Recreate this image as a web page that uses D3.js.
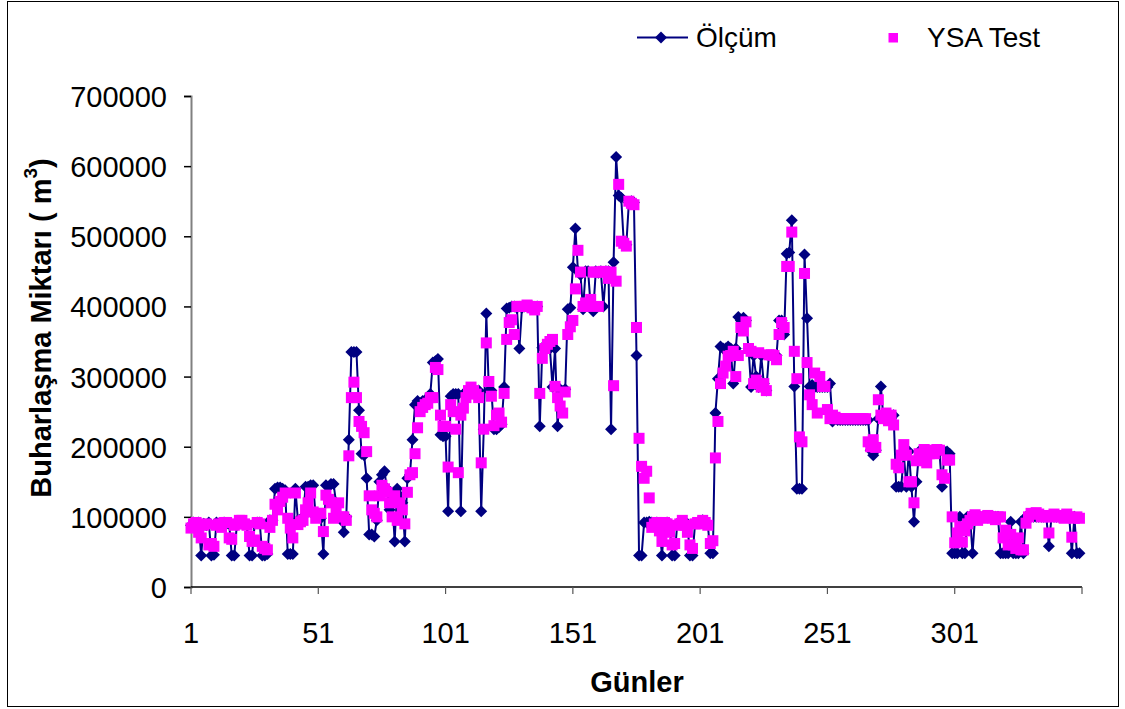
<!DOCTYPE html>
<html>
<head>
<meta charset="utf-8">
<script src="https://cdn.jsdelivr.net/npm/d3@7"></script>
<style>
html,body{margin:0;padding:0;background:#fff;}
svg{display:block;font-family:"Liberation Sans",Arial,sans-serif;}
</style>
</head>
<body>
<svg id="chart" width="1125" height="709"></svg>
<script>
// ---- data ----
const olcum = [
88000,92000,90000,92000,45000,90000,88000,92000,45000,46000,
92000,90000,88000,92000,90000,90000,45000,45000,88000,92000,
92000,90000,88000,45000,45000,90000,92000,92000,45000,45000,
47000,95000,95000,140000,142000,142000,140000,138000,47000,47000,
47000,140000,95000,95000,100000,143000,143000,145000,145000,100000,
100000,98000,47000,145000,143000,147000,147000,120000,100000,95000,
78000,100000,210000,335000,335000,335000,252000,190000,188000,155000,
75000,75000,72000,95000,150000,160000,165000,140000,110000,130000,
65000,140000,130000,120000,65000,155000,160000,210000,260000,265000,
262000,265000,265000,270000,275000,320000,322000,325000,217000,215000,
215000,108000,272000,275000,275000,275000,108000,275000,278000,280000,
280000,280000,278000,280000,108000,225000,390000,280000,280000,225000,
225000,228000,232000,285000,397000,398000,400000,400000,398000,340000,
398000,400000,400000,400000,400000,398000,400000,229000,341000,340000,
345000,340000,285000,340000,229000,282000,279000,282000,396000,398000,
456000,511000,450000,445000,396000,450000,450000,400000,393000,450000,
448000,450000,400000,450000,450000,225000,463000,613000,558000,555000,
490000,488000,548000,550000,548000,330000,45000,45000,92000,92000,
93000,92000,90000,92000,88000,45000,90000,92000,90000,45000,
45000,90000,92000,92000,88000,90000,45000,45000,90000,92000,
92000,95000,92000,90000,48000,48000,248000,297000,343000,340000,
340000,343000,340000,290000,340000,385000,380000,384000,380000,340000,
285000,330000,300000,285000,330000,290000,280000,330000,330000,330000,
330000,380000,380000,360000,475000,477000,523000,286000,140000,140000,
140000,474000,383000,286000,288000,285000,285000,285000,285000,285000,
285000,290000,236000,240000,238000,238000,238000,238000,238000,238000,
238000,238000,238000,238000,238000,238000,238000,195000,188000,195000,
240000,286000,240000,240000,240000,240000,245000,143000,143000,143000,
190000,143000,193000,143000,93000,150000,193000,193000,193000,193000,
193000,193000,193000,193000,193000,143000,193000,193000,190000,48000,
48000,48000,100000,48000,48000,100000,100000,48000,100000,100000,
100000,100000,100000,100000,100000,100000,100000,100000,48000,48000,
48000,48000,93000,48000,48000,48000,93000,48000,100000,100000,
100000,100000,100000,100000,100000,100000,100000,58000,100000,100000,
100000,100000,100000,100000,100000,100000,48000,100000,48000,48000
];
const ysaTest = [
84000,90000,92000,78000,70000,88000,90000,60000,62000,58000,
88000,90000,85000,92000,92000,70000,68000,88000,90000,95000,
95000,90000,88000,72000,65000,67000,92000,90000,58000,55000,
53000,85000,95000,118000,110000,122000,128000,134000,98000,84000,
70000,134000,89000,93000,95000,110000,120000,134000,107000,98000,
105000,105000,79000,131000,125000,120000,98000,110000,120000,100000,
100000,95000,187000,270000,292000,270000,236000,229000,220000,193000,
130000,110000,105000,100000,130000,145000,140000,135000,120000,100000,
130000,95000,120000,110000,90000,135000,160000,163000,190000,227000,
250000,256000,260000,262000,270000,270000,313000,310000,245000,229000,
229000,171000,260000,250000,225000,163000,245000,255000,270000,280000,
285000,280000,275000,270000,177000,225000,348000,293000,272000,230000,
245000,248000,235000,276000,353000,377000,381000,360000,400000,400000,
400000,400000,402000,400000,398000,395000,400000,276000,326000,340000,
346000,350000,353000,286000,270000,258000,248000,278000,360000,371000,
380000,425000,480000,449000,400000,405000,400000,410000,449000,449000,
400000,449000,450000,449000,440000,449000,287000,436000,574000,493000,
490000,486000,550000,547000,545000,370000,212000,172000,155000,165000,
127000,85000,90000,92000,80000,65000,92000,90000,78000,60000,
62000,88000,90000,95000,88000,78000,60000,55000,90000,92000,
90000,95000,92000,88000,62000,66000,184000,236000,290000,305000,
315000,329000,330000,336000,300000,330000,370000,365000,378000,340000,
336000,290000,295000,334000,285000,290000,280000,331000,331000,330000,
324000,360000,377000,370000,457000,457000,506000,336000,297000,214000,
207000,447000,320000,274000,260000,305000,248000,300000,286000,286000,
253000,240000,245000,242000,240000,240000,240000,240000,240000,240000,
240000,240000,240000,240000,240000,240000,207000,200000,210000,199000,
267000,245000,240000,248000,237000,245000,231000,175000,170000,188000,
203000,188000,150000,150000,120000,180000,190000,185000,196000,177000,
190000,195000,190000,196000,195000,160000,155000,181000,181000,100000,
63000,77000,86000,64000,80000,90000,95000,100000,103000,95000,
100000,98000,100000,102000,100000,98000,96000,100000,100000,70000,
81000,60000,75000,60000,55000,70000,53000,53000,91000,100000,
105000,104000,106000,104000,100000,102000,100000,77000,100000,104000,
102000,100000,100000,98000,104000,100000,71000,98000,100000,98000
];
const days = d3.range(1, olcum.length + 1);
const xTickValues = [1, 51, 101, 151, 201, 251, 301];
const xTickMarks = [1, 51, 101, 151, 201, 251, 301, 351];
const yTickValues = [0, 100000, 200000, 300000, 400000, 500000, 600000, 700000];
const seriesNames = ["Ölçüm", "YSA Test"];
const xTitle = "Günler";

// ---- drawing ----
const svg = d3.select("#chart");
const x = d3.scaleLinear().domain([1, 351]).range([191, 1082]);
const y = d3.scaleLinear().domain([0, 700000]).range([587, 96]);

// outer frame
svg.append("rect").attr("x", 7.5).attr("y", 1.5).attr("width", 1111).attr("height", 705)
  .attr("fill", "none").attr("stroke", "#000").attr("stroke-width", 1);

// y axis
const yAxis = svg.append("g").attr("transform", "translate(191,0)")
  .call(d3.axisLeft(y).tickValues(yTickValues).tickFormat(d3.format("d")).tickSize(7).tickPadding(17));
yAxis.select(".domain").attr("stroke", "#808080").attr("stroke-width", 2);
yAxis.selectAll(".tick line").attr("stroke", "#000").attr("stroke-width", 1.5);
yAxis.selectAll("text").attr("font-size", 29).attr("fill", "#000").attr("dy", "0.36em");

// x axis
const xAxisG = svg.append("g").attr("transform", "translate(0,587)");
xAxisG.append("line").attr("x1", 191).attr("x2", 1082).attr("y1", 0).attr("y2", 0)
  .attr("stroke", "#000").attr("stroke-width", 1.5);
xAxisG.selectAll(".tm").data(xTickMarks).join("line").attr("class", "tm")
  .attr("x1", d => x(d)).attr("x2", d => x(d)).attr("y1", 0).attr("y2", 7)
  .attr("stroke", "#555").attr("stroke-width", 1.2);
xAxisG.selectAll(".tl").data(xTickValues).join("text").attr("class", "tl")
  .attr("x", d => x(d)).attr("y", 56).attr("text-anchor", "middle")
  .attr("font-size", 29).attr("fill", "#000").text(d => d);

// axis titles
svg.append("text").attr("x", 637).attr("y", 692).attr("text-anchor", "middle")
  .attr("font-size", 29).attr("font-weight", "bold").text(xTitle);
const yt = svg.append("text").attr("transform", "translate(51,328) rotate(-90)")
  .attr("text-anchor", "middle").attr("font-size", 29).attr("font-weight", "bold");
yt.append("tspan").text("Buharlaşma Miktarı ( m");
yt.append("tspan").attr("font-size", 19).attr("dy", "-0.75em").text("3");
yt.append("tspan").attr("dy", "0.5em").text(")");

// series
const navy = "#000080", magenta = "#FF00FF";
const diamond = "M0,-6L6,0L0,6L-6,0Z";
const line = d3.line().x((d, i) => x(days[i])).y(d => y(d));
svg.append("path").datum(olcum).attr("d", line).attr("fill", "none")
  .attr("stroke", navy).attr("stroke-width", 2);
svg.append("g").selectAll("path").data(olcum).join("path")
  .attr("d", diamond).attr("fill", navy)
  .attr("transform", (d, i) => `translate(${x(days[i])},${y(d)})`);
const sq = 11;
svg.append("g").selectAll("rect").data(ysaTest).join("rect")
  .attr("x", (d, i) => x(days[i]) - sq / 2).attr("y", d => y(d) - sq / 2)
  .attr("width", sq).attr("height", sq).attr("fill", magenta);

// legend
const lg = svg.append("g");
lg.append("line").attr("x1", 637).attr("x2", 688).attr("y1", 37.5).attr("y2", 37.5)
  .attr("stroke", navy).attr("stroke-width", 2);
lg.append("path").attr("d", diamond).attr("fill", navy).attr("transform", "translate(661,37.5)");
lg.append("text").attr("x", 696).attr("y", 46.5).attr("font-size", 28).text(seriesNames[0]);
lg.append("rect").attr("x", 888.5).attr("y", 33).attr("width", 9.5).attr("height", 9.5).attr("fill", magenta);
lg.append("text").attr("x", 927).attr("y", 46.5).attr("font-size", 28).text(seriesNames[1]);
</script>
</body>
</html>
